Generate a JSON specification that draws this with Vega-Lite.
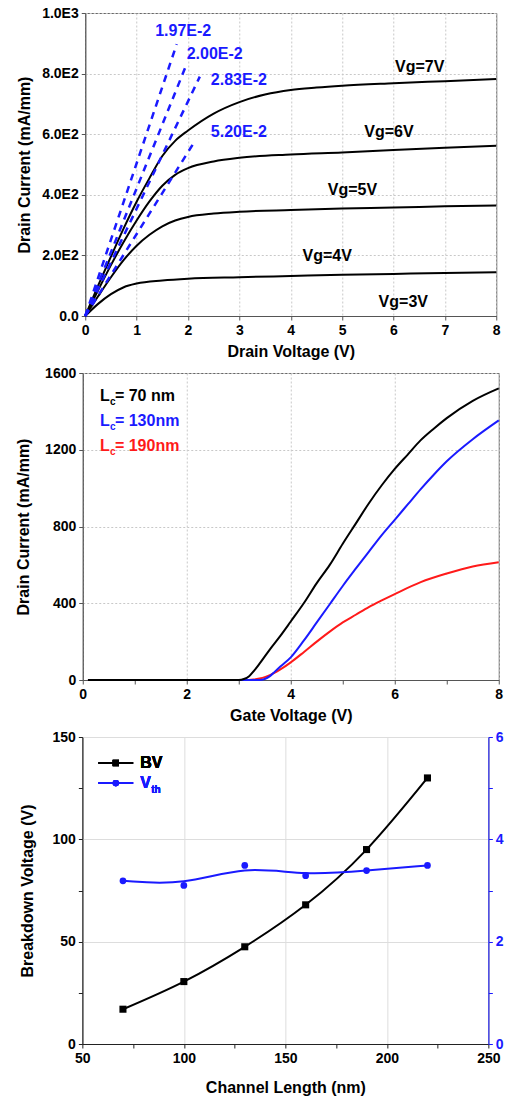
{
  "$schema": "https://vega.github.io/schema/vega-lite/v6.json",
  "background": "white",
  "padding": {"left": 15, "top": 5, "right": 2, "bottom": 0},
  "config": {
    "font": "Liberation Sans",
    "axis": {"labelFont": "Liberation Sans", "labelFontSize": 14, "labelFontWeight": "bold", "labelColor": "black", "titleFont": "Liberation Sans", "titleFontSize": 16, "titleFontWeight": "bold", "titleColor": "black", "tickSize": 4, "labelPadding": 3, "labelFlush": false, "labelOverlap": false},
    "text": {"font": "Liberation Sans", "fontWeight": "bold", "fontSize": 16}
  },
  "datasets": {
    "iv": [
      {"vg": "7V", "vd": 0, "id": 0}, {"vg": "7V", "vd": 0.25, "id": 100}, {"vg": "7V", "vd": 0.5, "id": 196}, {"vg": "7V", "vd": 0.75, "id": 290}, {"vg": "7V", "vd": 1, "id": 377}, {"vg": "7V", "vd": 1.25, "id": 455}, {"vg": "7V", "vd": 1.5, "id": 528}, {"vg": "7V", "vd": 1.75, "id": 578}, {"vg": "7V", "vd": 2, "id": 612}, {"vg": "7V", "vd": 2.5, "id": 668}, {"vg": "7V", "vd": 3, "id": 706}, {"vg": "7V", "vd": 3.5, "id": 731}, {"vg": "7V", "vd": 4, "id": 746}, {"vg": "7V", "vd": 4.5, "id": 754}, {"vg": "7V", "vd": 5, "id": 760}, {"vg": "7V", "vd": 6, "id": 768}, {"vg": "7V", "vd": 7, "id": 775}, {"vg": "7V", "vd": 8, "id": 782},
      {"vg": "6V", "vd": 0, "id": 0}, {"vg": "6V", "vd": 0.25, "id": 85}, {"vg": "6V", "vd": 0.5, "id": 168}, {"vg": "6V", "vd": 0.75, "id": 245}, {"vg": "6V", "vd": 1, "id": 315}, {"vg": "6V", "vd": 1.25, "id": 378}, {"vg": "6V", "vd": 1.5, "id": 430}, {"vg": "6V", "vd": 1.75, "id": 466}, {"vg": "6V", "vd": 2, "id": 488}, {"vg": "6V", "vd": 2.5, "id": 510}, {"vg": "6V", "vd": 3, "id": 522}, {"vg": "6V", "vd": 4, "id": 533}, {"vg": "6V", "vd": 5, "id": 540}, {"vg": "6V", "vd": 6, "id": 548}, {"vg": "6V", "vd": 7, "id": 555}, {"vg": "6V", "vd": 8, "id": 562},
      {"vg": "5V", "vd": 0, "id": 0}, {"vg": "5V", "vd": 0.25, "id": 65}, {"vg": "5V", "vd": 0.5, "id": 128}, {"vg": "5V", "vd": 0.75, "id": 185}, {"vg": "5V", "vd": 1, "id": 232}, {"vg": "5V", "vd": 1.25, "id": 268}, {"vg": "5V", "vd": 1.5, "id": 296}, {"vg": "5V", "vd": 1.75, "id": 315}, {"vg": "5V", "vd": 2, "id": 327}, {"vg": "5V", "vd": 2.5, "id": 338}, {"vg": "5V", "vd": 3, "id": 344}, {"vg": "5V", "vd": 4, "id": 350}, {"vg": "5V", "vd": 5, "id": 355}, {"vg": "5V", "vd": 6, "id": 358}, {"vg": "5V", "vd": 7, "id": 362}, {"vg": "5V", "vd": 8, "id": 365},
      {"vg": "4V", "vd": 0, "id": 0}, {"vg": "4V", "vd": 0.25, "id": 40}, {"vg": "4V", "vd": 0.5, "id": 72}, {"vg": "4V", "vd": 0.75, "id": 95}, {"vg": "4V", "vd": 1, "id": 107}, {"vg": "4V", "vd": 1.5, "id": 117}, {"vg": "4V", "vd": 2, "id": 123}, {"vg": "4V", "vd": 3, "id": 128}, {"vg": "4V", "vd": 4, "id": 132}, {"vg": "4V", "vd": 5, "id": 136}, {"vg": "4V", "vd": 6, "id": 139}, {"vg": "4V", "vd": 7, "id": 142}, {"vg": "4V", "vd": 8, "id": 144}
    ],
    "ron": [
      {"r": "1.97E-2", "vd": 0, "id": 0}, {"r": "1.97E-2", "vd": 1.78, "id": 897},
      {"r": "2.00E-2", "vd": 0, "id": 0}, {"r": "2.00E-2", "vd": 1.98, "id": 834},
      {"r": "2.83E-2", "vd": 0, "id": 0}, {"r": "2.83E-2", "vd": 2.23, "id": 790},
      {"r": "5.20E-2", "vd": 0, "id": 0}, {"r": "5.20E-2", "vd": 2.1, "id": 568}
    ],
    "p1lab": [
      {"t": "Vg=7V", "x": 6.51, "y": 823}, {"t": "Vg=6V", "x": 5.91, "y": 608}, {"t": "Vg=5V", "x": 5.2, "y": 416}, {"t": "Vg=4V", "x": 4.71, "y": 198}, {"t": "Vg=3V", "x": 6.19, "y": 47}
    ],
    "ronlab": [
      {"t": "1.97E-2", "x": 1.906, "y": 941}, {"t": "2.00E-2", "x": 2.52, "y": 864}, {"t": "2.83E-2", "x": 2.99, "y": 779}, {"t": "5.20E-2", "x": 2.99, "y": 606}
    ],
    "transfer": [
      {"lc": "190nm", "vg": 0.1, "id": 0}, {"lc": "190nm", "vg": 3.2, "id": 0}, {"lc": "190nm", "vg": 3.3, "id": 3}, {"lc": "190nm", "vg": 3.4, "id": 8}, {"lc": "190nm", "vg": 3.5, "id": 15}, {"lc": "190nm", "vg": 3.6, "id": 25}, {"lc": "190nm", "vg": 3.8, "id": 55}, {"lc": "190nm", "vg": 4, "id": 92}, {"lc": "190nm", "vg": 4.25, "id": 145}, {"lc": "190nm", "vg": 4.5, "id": 200}, {"lc": "190nm", "vg": 4.75, "id": 252}, {"lc": "190nm", "vg": 5, "id": 300}, {"lc": "190nm", "vg": 5.25, "id": 340}, {"lc": "190nm", "vg": 5.5, "id": 380}, {"lc": "190nm", "vg": 5.75, "id": 415}, {"lc": "190nm", "vg": 6, "id": 448}, {"lc": "190nm", "vg": 6.5, "id": 510}, {"lc": "190nm", "vg": 7, "id": 555}, {"lc": "190nm", "vg": 7.5, "id": 592}, {"lc": "190nm", "vg": 8, "id": 614},
      {"lc": "130nm", "vg": 0.1, "id": 0}, {"lc": "130nm", "vg": 3.4, "id": 0}, {"lc": "130nm", "vg": 3.5, "id": 5}, {"lc": "130nm", "vg": 3.6, "id": 20}, {"lc": "130nm", "vg": 3.7, "id": 45}, {"lc": "130nm", "vg": 3.8, "id": 70}, {"lc": "130nm", "vg": 4, "id": 118}, {"lc": "130nm", "vg": 4.25, "id": 205}, {"lc": "130nm", "vg": 4.5, "id": 300}, {"lc": "130nm", "vg": 4.75, "id": 395}, {"lc": "130nm", "vg": 5, "id": 490}, {"lc": "130nm", "vg": 5.25, "id": 580}, {"lc": "130nm", "vg": 5.5, "id": 668}, {"lc": "130nm", "vg": 5.75, "id": 755}, {"lc": "130nm", "vg": 6, "id": 835}, {"lc": "130nm", "vg": 6.25, "id": 915}, {"lc": "130nm", "vg": 6.5, "id": 995}, {"lc": "130nm", "vg": 6.75, "id": 1070}, {"lc": "130nm", "vg": 7, "id": 1140}, {"lc": "130nm", "vg": 7.5, "id": 1255}, {"lc": "130nm", "vg": 8, "id": 1353},
      {"lc": "70 nm", "vg": 0.1, "id": 0}, {"lc": "70 nm", "vg": 3, "id": 0}, {"lc": "70 nm", "vg": 3.1, "id": 5}, {"lc": "70 nm", "vg": 3.2, "id": 20}, {"lc": "70 nm", "vg": 3.3, "id": 50}, {"lc": "70 nm", "vg": 3.4, "id": 85}, {"lc": "70 nm", "vg": 3.6, "id": 160}, {"lc": "70 nm", "vg": 3.8, "id": 230}, {"lc": "70 nm", "vg": 4, "id": 305}, {"lc": "70 nm", "vg": 4.25, "id": 400}, {"lc": "70 nm", "vg": 4.5, "id": 505}, {"lc": "70 nm", "vg": 4.75, "id": 600}, {"lc": "70 nm", "vg": 5, "id": 710}, {"lc": "70 nm", "vg": 5.25, "id": 815}, {"lc": "70 nm", "vg": 5.5, "id": 920}, {"lc": "70 nm", "vg": 5.75, "id": 1015}, {"lc": "70 nm", "vg": 6, "id": 1100}, {"lc": "70 nm", "vg": 6.25, "id": 1175}, {"lc": "70 nm", "vg": 6.5, "id": 1250}, {"lc": "70 nm", "vg": 6.75, "id": 1310}, {"lc": "70 nm", "vg": 7, "id": 1365}, {"lc": "70 nm", "vg": 7.5, "id": 1455}, {"lc": "70 nm", "vg": 8, "id": 1520}
    ],
    "p2leg": [
      {"lc": "70 nm", "lab": "= 70  nm", "y": 1481}, {"lc": "130nm", "lab": "= 130nm", "y": 1348}, {"lc": "190nm", "lab": "= 190nm", "y": 1218}
    ],
    "bv": [
      {"L": 70, "BV": 17, "Vth": 3.19}, {"L": 100, "BV": 30.5, "Vth": 3.1}, {"L": 130, "BV": 47.5, "Vth": 3.49}, {"L": 160, "BV": 68, "Vth": 3.29}, {"L": 190, "BV": 95, "Vth": 3.39}, {"L": 220, "BV": 130, "Vth": 3.49}
    ]
  },
  "columns": 1,
  "spacing": 5,
  "center": true,
  "concat": [
    {
      "width": 411,
      "height": 303,
      "view": {"stroke": "#666"},
      "layer": [
        {
          "data": {"name": "iv"},
          "mark": {"type": "line", "color": "black", "strokeWidth": 2, "interpolate": "monotone"},
          "encoding": {
            "x": {"field": "vd", "type": "quantitative", "scale": {"domain": [0, 8], "nice": false},
              "axis": {"title": "Drain Voltage (V)", "values": [0, 0.5, 1, 1.5, 2, 2.5, 3, 3.5, 4, 4.5, 5, 5.5, 6, 6.5, 7, 7.5, 8],
                "labelExpr": "datum.value % 1 === 0 ? datum.label : ''",
                "grid": true, "gridColor": "#c8c8c8", "gridDash": [2, 2],
                "gridOpacity": {"condition": {"test": "datum.value % 1 === 0", "value": 1}, "value": 0},
                "domainColor": "#555", "tickColor": "#555", "titlePadding": 6}},
            "y": {"field": "id", "type": "quantitative", "scale": {"domain": [0, 1000], "nice": false},
              "axis": {"title": "Drain Current (mA/mm)", "values": [0, 100, 200, 300, 400, 500, 600, 700, 800, 900, 1000],
                "labelExpr": "datum.value % 200 === 0 ? (datum.value === 0 ? '0.0' : replace(format(datum.value, '.1e'), 'e+', 'E')) : ''",
                "grid": true, "gridColor": "#c8c8c8", "gridDash": [2, 2],
                "gridOpacity": {"condition": {"test": "datum.value % 200 === 0", "value": 1}, "value": 0},
                "domainColor": "#555", "tickColor": "#555", "titlePadding": 9}},
            "detail": {"field": "vg"}
          }
        },
        {
          "data": {"name": "ron"},
          "mark": {"type": "line", "color": "#1a1aff", "strokeWidth": 2.5, "strokeDash": [7, 6]},
          "encoding": {
            "x": {"field": "vd", "type": "quantitative"},
            "y": {"field": "id", "type": "quantitative"},
            "detail": {"field": "r"}
          }
        },
        {
          "data": {"name": "p1lab"},
          "mark": {"type": "text", "color": "black", "fontSize": 16, "align": "center", "baseline": "middle"},
          "encoding": {
            "x": {"field": "x", "type": "quantitative"},
            "y": {"field": "y", "type": "quantitative"},
            "text": {"field": "t"}
          }
        },
        {
          "data": {"name": "ronlab"},
          "mark": {"type": "text", "color": "#1a1aff", "fontSize": 16, "align": "center", "baseline": "middle"},
          "encoding": {
            "x": {"field": "x", "type": "quantitative"},
            "y": {"field": "y", "type": "quantitative"},
            "text": {"field": "t"}
          }
        },
        {
          "mark": {"type": "text", "color": "#1a1aff", "fontSize": 16, "align": "left", "baseline": "middle"},
          "encoding": {"x": {"datum": 3.06, "type": "quantitative"}, "y": {"datum": 940, "type": "quantitative"}, "text": {"value": "R"}}
        },
        {
          "mark": {"type": "text", "color": "#1a1aff", "fontSize": 10, "align": "left", "baseline": "middle", "dx": 11, "dy": 6},
          "encoding": {"x": {"datum": 3.06, "type": "quantitative"}, "y": {"datum": 940, "type": "quantitative"}, "text": {"value": "on"}}
        },
        {
          "mark": {"type": "text", "color": "#1a1aff", "fontSize": 16, "align": "left", "baseline": "middle", "dx": 23},
          "encoding": {"x": {"datum": 3.06, "type": "quantitative"}, "y": {"datum": 940, "type": "quantitative"}, "text": {"value": "A (mΩ*cm"}}
        },
        {
          "mark": {"type": "text", "color": "#1a1aff", "fontSize": 10, "align": "left", "baseline": "middle", "dx": 100, "dy": -6},
          "encoding": {"x": {"datum": 3.06, "type": "quantitative"}, "y": {"datum": 940, "type": "quantitative"}, "text": {"value": "2"}}
        },
        {
          "mark": {"type": "text", "color": "#1a1aff", "fontSize": 16, "align": "left", "baseline": "middle", "dx": 106},
          "encoding": {"x": {"datum": 3.06, "type": "quantitative"}, "y": {"datum": 940, "type": "quantitative"}, "text": {"value": ")"}}
        }
      ]
    },
    {
      "width": 416,
      "height": 307,
      "view": {"stroke": "#666"},
      "layer": [
        {
          "data": {"name": "transfer"},
          "mark": {"type": "line", "strokeWidth": 2, "interpolate": "monotone"},
          "encoding": {
            "x": {"field": "vg", "type": "quantitative", "scale": {"domain": [0, 8], "nice": false},
              "axis": {"title": "Gate Voltage (V)", "values": [0, 1, 2, 3, 4, 5, 6, 7, 8],
                "labelExpr": "datum.value % 2 === 0 ? datum.label : ''",
                "grid": true, "gridColor": "#c8c8c8", "gridDash": [2, 2],
                "gridOpacity": {"condition": {"test": "datum.value % 2 === 0", "value": 1}, "value": 0},
                "domainColor": "#555", "tickColor": "#555", "titlePadding": 6}},
            "y": {"field": "id", "type": "quantitative", "scale": {"domain": [0, 1600], "nice": false},
              "axis": {"title": "Drain Current (mA/mm)", "values": [0, 200, 400, 600, 800, 1000, 1200, 1400, 1600], "format": "d",
                "labelExpr": "datum.value % 400 === 0 ? datum.label : ''",
                "grid": true, "gridColor": "#c8c8c8", "gridDash": [2, 2],
                "gridOpacity": {"condition": {"test": "datum.value % 400 === 0", "value": 1}, "value": 0},
                "domainColor": "#555", "tickColor": "#555", "titlePadding": 13}},
            "color": {"field": "lc", "type": "nominal", "scale": {"domain": ["70 nm", "130nm", "190nm"], "range": ["black", "#1a1aff", "#ff1a1a"]}, "legend": null}
          }
        },
        {
          "data": {"name": "p2leg"},
          "mark": {"type": "text", "fontSize": 16, "align": "left", "baseline": "middle"},
          "encoding": {
            "x": {"datum": 0.33, "type": "quantitative"},
            "y": {"field": "y", "type": "quantitative"},
            "color": {"field": "lc", "type": "nominal", "legend": null},
            "text": {"value": "L"}
          }
        },
        {
          "data": {"name": "p2leg"},
          "mark": {"type": "text", "fontSize": 10, "align": "left", "baseline": "middle", "dx": 10, "dy": 6},
          "encoding": {
            "x": {"datum": 0.33, "type": "quantitative"},
            "y": {"field": "y", "type": "quantitative"},
            "color": {"field": "lc", "type": "nominal", "legend": null},
            "text": {"value": "c"}
          }
        },
        {
          "data": {"name": "p2leg"},
          "mark": {"type": "text", "fontSize": 16, "align": "left", "baseline": "middle", "dx": 15},
          "encoding": {
            "x": {"datum": 0.33, "type": "quantitative"},
            "y": {"field": "y", "type": "quantitative"},
            "color": {"field": "lc", "type": "nominal", "legend": null},
            "text": {"field": "lab"}
          }
        }
      ]
    },
    {
      "width": 406,
      "height": 307,
      "view": {"stroke": "#222"},
      "data": {"name": "bv"},
      "layer": [
        {
          "layer": [
            {
              "mark": {"type": "line", "color": "black", "strokeWidth": 2, "interpolate": "natural"},
              "encoding": {
                "x": {"field": "L", "type": "quantitative", "scale": {"domain": [50, 250], "nice": false, "zero": false},
                  "axis": {"title": "Channel Length (nm)", "values": [50, 75, 100, 125, 150, 175, 200, 225, 250],
                    "labelExpr": "datum.value % 50 === 0 ? datum.label : ''",
                    "grid": true, "gridColor": "#dddddd",
                    "gridOpacity": {"condition": {"test": "datum.value % 50 === 0", "value": 1}, "value": 0},
                    "domainColor": "#222", "tickColor": "#222", "titlePadding": 14}},
                "y": {"field": "BV", "type": "quantitative", "scale": {"domain": [0, 150], "nice": false},
                  "axis": {"title": "Breakdown Voltage (V)", "values": [0, 25, 50, 75, 100, 125, 150],
                    "labelExpr": "datum.value % 50 === 0 ? datum.label : ''",
                    "grid": true, "gridColor": "#dddddd",
                    "gridOpacity": {"condition": {"test": "datum.value % 50 === 0", "value": 1}, "value": 0},
                    "domainColor": "#222", "tickColor": "#222", "titlePadding": 16}}
              }
            },
            {
              "mark": {"type": "point", "shape": "square", "filled": true, "color": "black", "size": 50, "opacity": 1},
              "encoding": {
                "x": {"field": "L", "type": "quantitative"},
                "y": {"field": "BV", "type": "quantitative"}
              }
            },
            {
              "mark": {"type": "rule", "color": "black", "strokeWidth": 2},
              "encoding": {"x": {"datum": 58, "type": "quantitative"}, "x2": {"datum": 75}, "y": {"datum": 137.3, "type": "quantitative"}}
            },
            {
              "mark": {"type": "point", "shape": "square", "filled": true, "color": "black", "size": 40, "opacity": 1},
              "encoding": {"x": {"datum": 66.5, "type": "quantitative"}, "y": {"datum": 137.3, "type": "quantitative"}}
            },
            {
              "mark": {"type": "text", "color": "black", "fontSize": 16, "align": "left", "baseline": "middle"},
              "encoding": {"x": {"datum": 78.5, "type": "quantitative"}, "y": {"datum": 137.3, "type": "quantitative"}, "text": {"value": "BV"}}
            },
            {
              "mark": {"type": "rule", "color": "#1a1aff", "strokeWidth": 2},
              "encoding": {"x": {"datum": 58, "type": "quantitative"}, "x2": {"datum": 75}, "y": {"datum": 127.5, "type": "quantitative"}}
            },
            {
              "mark": {"type": "point", "shape": "circle", "filled": true, "color": "#1a1aff", "size": 40, "opacity": 1},
              "encoding": {"x": {"datum": 66.5, "type": "quantitative"}, "y": {"datum": 127.5, "type": "quantitative"}}
            },
            {
              "mark": {"type": "text", "color": "#1a1aff", "fontSize": 16, "align": "left", "baseline": "middle"},
              "encoding": {"x": {"datum": 78.5, "type": "quantitative"}, "y": {"datum": 127.5, "type": "quantitative"}, "text": {"value": "V"}}
            },
            {
              "mark": {"type": "text", "color": "#1a1aff", "fontSize": 10, "align": "left", "baseline": "middle", "dx": 11, "dy": 7},
              "encoding": {"x": {"datum": 78.5, "type": "quantitative"}, "y": {"datum": 127.5, "type": "quantitative"}, "text": {"value": "th"}}
            }
          ]
        },
        {
          "layer": [
            {
              "mark": {"type": "line", "color": "#1a1aff", "strokeWidth": 2, "interpolate": "basis"},
              "encoding": {
                "x": {"field": "L", "type": "quantitative"},
                "y": {"field": "Vth", "type": "quantitative", "scale": {"domain": [0, 6], "nice": false},
                  "axis": {"orient": "right", "title": null, "values": [0, 1, 2, 3, 4, 5, 6],
                    "labelExpr": "datum.value % 2 === 0 ? datum.label : ''",
                    "grid": false, "domainColor": "#1a1aff", "tickColor": "#1a1aff", "labelColor": "#1a1aff"}}
              }
            },
            {
              "mark": {"type": "point", "shape": "circle", "filled": true, "color": "#1a1aff", "size": 45, "opacity": 1},
              "encoding": {
                "x": {"field": "L", "type": "quantitative"},
                "y": {"field": "Vth", "type": "quantitative"}
              }
            }
          ]
        }
      ],
      "resolve": {"scale": {"y": "independent"}}
    }
  ]
}
